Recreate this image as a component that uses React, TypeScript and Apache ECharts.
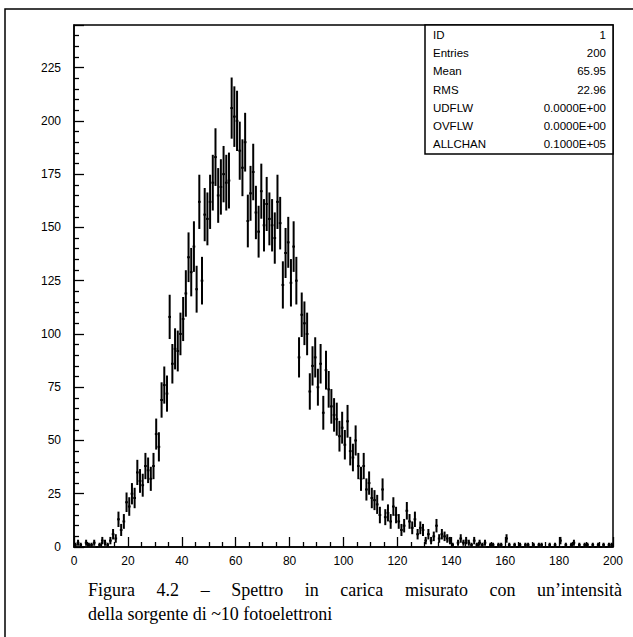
import React, { useEffect, useRef } from "react";
import * as echarts from "echarts";

// Histogram ID 1: counts per unit-wide channel, channels 0..199
const counts: number[] = [
  1, 2, 1, 0, 2, 1, 1, 2, 0, 1,
  3, 2, 1, 3, 6, 4, 13, 8, 12, 21,
  19, 25, 23, 35, 31, 29, 38, 36, 32, 38,
  53, 47, 69, 76, 72, 108, 86, 93, 92, 100,
  107, 119, 136, 129, 141, 121, 162, 125, 156, 154,
  162, 171, 183, 165, 169, 175, 171, 172, 206, 202,
  200, 186, 178, 190, 153, 166, 176, 157, 148, 167,
  151, 161, 154, 151, 145, 162, 152, 123, 138, 143,
  124, 141, 125, 89, 109, 105, 100, 73, 85, 89,
  75, 86, 63, 83, 74, 66, 62, 60, 52, 56,
  48, 59, 45, 42, 50, 38, 32, 38, 27, 30,
  23, 22, 20, 15, 27, 14, 16, 12, 19, 15,
  12, 8, 10, 17, 12, 9, 13, 6, 9, 8,
  3, 6, 3, 5, 10, 4, 6, 5, 4, 3,
  1, 0, 2, 4, 2, 3, 2, 1, 3, 1,
  2, 1, 2, 0, 1, 1, 0, 1, 1, 0,
  4, 1, 0, 1, 0, 1, 0, 1, 1, 0,
  1, 0, 1, 1, 0, 0, 1, 0, 1, 0,
  3, 0, 1, 0, 1, 2, 0, 1, 0, 1,
  1, 0, 1, 0, 1, 0, 1, 0, 1, 1,
];

// Statistics box
const statLabels: string[] = ["ID", "Entries", "Mean", "RMS", "UDFLW", "OVFLW", "ALLCHAN"];
const statValues: string[] = ["1", "200", "65.95", "22.96", "0.0000E+00", "0.0000E+00", "0.1000E+05"];

// Caption
const captionLine1: string = "Figura 4.2 – Spettro in carica misurato con un’intensità";
const captionLine2: string = "della sorgente di ~10 fotoelettroni";

const W = 633;
const H = 637;
const INK = "#000";
const AXIS_FONT = "Liberation Sans";
const CAPTION_FONT = "Liberation Serif";

function measure(text: string, font: string): number {
  const c = document.createElement("canvas").getContext("2d");
  if (!c) return text.length * 8;
  c.font = font;
  return c.measureText(text).width;
}

// Lay out a line as words spread evenly between left and right
function justified(text: string, left: number, right: number, y: number, size: number) {
  const font = `${size}px "${CAPTION_FONT}"`;
  const words = text.split(" ");
  const widths = words.map((w) => measure(w, font));
  const total = widths.reduce((a, b) => a + b, 0);
  const gap = words.length > 1 ? (right - left - total) / (words.length - 1) : 0;
  let x = left;
  return words.map((w, i) => {
    const el = {
      type: "text",
      x,
      y,
      z: 10,
      style: {
        text: w,
        fill: INK,
        fontSize: size,
        fontFamily: CAPTION_FONT,
        textAlign: "left",
        textVerticalAlign: "middle",
      },
    };
    x += widths[i] + gap;
    return el;
  });
}

export default function App() {
  const ref = useRef<HTMLDivElement>(null);

  useEffect(() => {
    if (!ref.current) return;
    const chart = echarts.init(ref.current, null, { renderer: "svg" });

    const boxX = 425;
    const boxY = 25;
    const boxW = 188;
    const boxH = 129;
    const rowY0 = 35;
    const rowStep = 18.2;

    const statText: any[] = [];
    statLabels.forEach((lab, i) => {
      statText.push({
        type: "text",
        x: boxX + 8,
        y: rowY0 + i * rowStep,
        z: 11,
        style: {
          text: lab,
          fill: INK,
          fontSize: 11.5,
          fontFamily: AXIS_FONT,
          textAlign: "left",
          textVerticalAlign: "middle",
        },
      });
      statText.push({
        type: "text",
        x: boxX + boxW - 7,
        y: rowY0 + i * rowStep,
        z: 11,
        style: {
          text: statValues[i],
          fill: INK,
          fontSize: 11.5,
          fontFamily: AXIS_FONT,
          textAlign: "right",
          textVerticalAlign: "middle",
        },
      });
    });

    const option: any = {
      animation: false,
      backgroundColor: "#fff",
      grid: {
        left: 74,
        right: 20,
        top: 25,
        bottom: 90,
        show: true,
        borderColor: INK,
        borderWidth: 1.5,
        backgroundColor: "transparent",
      },
      xAxis: {
        type: "value",
        min: 0,
        max: 200,
        interval: 20,
        axisLine: { show: true, lineStyle: { color: INK, width: 1.5 } },
        axisTick: { show: true, inside: true, length: 10, lineStyle: { color: INK, width: 1.3 } },
        minorTick: { show: true, splitNumber: 4, length: 5, lineStyle: { color: INK, width: 1.3 } },
        splitLine: { show: false },
        minorSplitLine: { show: false },
        axisLabel: { color: INK, fontSize: 12, fontFamily: AXIS_FONT, margin: 8 },
      },
      yAxis: {
        type: "value",
        min: 0,
        max: 245,
        interval: 25,
        axisLine: { show: true, lineStyle: { color: INK, width: 1.5 } },
        axisTick: { show: true, inside: true, length: 10, lineStyle: { color: INK, width: 1.3 } },
        minorTick: { show: true, splitNumber: 5, length: 5, lineStyle: { color: INK, width: 1.3 } },
        splitLine: { show: false },
        minorSplitLine: { show: false },
        axisLabel: {
          color: INK,
          fontSize: 12,
          fontFamily: AXIS_FONT,
          margin: 13,
          showMaxLabel: false,
        },
      },
      series: [
        {
          type: "custom",
          data: counts.map((n, i) => [i, n]),
          encode: { x: 0, y: 1 },
          clip: false,
          renderItem: (_params: any, api: any) => {
            const lo = api.value(0);
            const n = api.value(1);
            const err = Math.sqrt(n);
            const left = api.coord([lo, n]);
            const right = api.coord([lo + 1, n]);
            const top = api.coord([lo + 0.5, n + err]);
            const bottom = api.coord([lo + 0.5, n - err]);
            const style = { stroke: INK, lineWidth: 2 };
            return {
              type: "group",
              children: [
                {
                  type: "line",
                  shape: { x1: left[0], y1: left[1], x2: right[0], y2: right[1] },
                  style,
                },
                {
                  type: "line",
                  shape: { x1: top[0], y1: top[1], x2: bottom[0], y2: bottom[1] },
                  style,
                },
              ],
            };
          },
        },
      ],
      graphic: [
        {
          type: "rect",
          shape: { x: 5, y: 9, width: 700, height: 700 },
          z: 1,
          style: { fill: "none", stroke: INK, lineWidth: 1.5 },
        },
        {
          type: "rect",
          shape: { x: boxX, y: boxY, width: boxW, height: boxH },
          z: 10,
          style: { fill: "#fff", stroke: INK, lineWidth: 1.5 },
        },
        ...statText,
        ...justified(captionLine1, 88, 622, 590, 18),
        {
          type: "text",
          x: 88,
          y: 614,
          z: 10,
          style: {
            text: captionLine2,
            fill: INK,
            fontSize: 18,
            fontFamily: CAPTION_FONT,
            textAlign: "left",
            textVerticalAlign: "middle",
          },
        },
      ],
    };

    chart.setOption(option);
    return () => chart.dispose();
  }, []);

  return (
    <div
      ref={ref}
      style={{ position: "absolute", left: 0, top: 0, width: W, height: H, background: "#fff" }}
    />
  );
}
